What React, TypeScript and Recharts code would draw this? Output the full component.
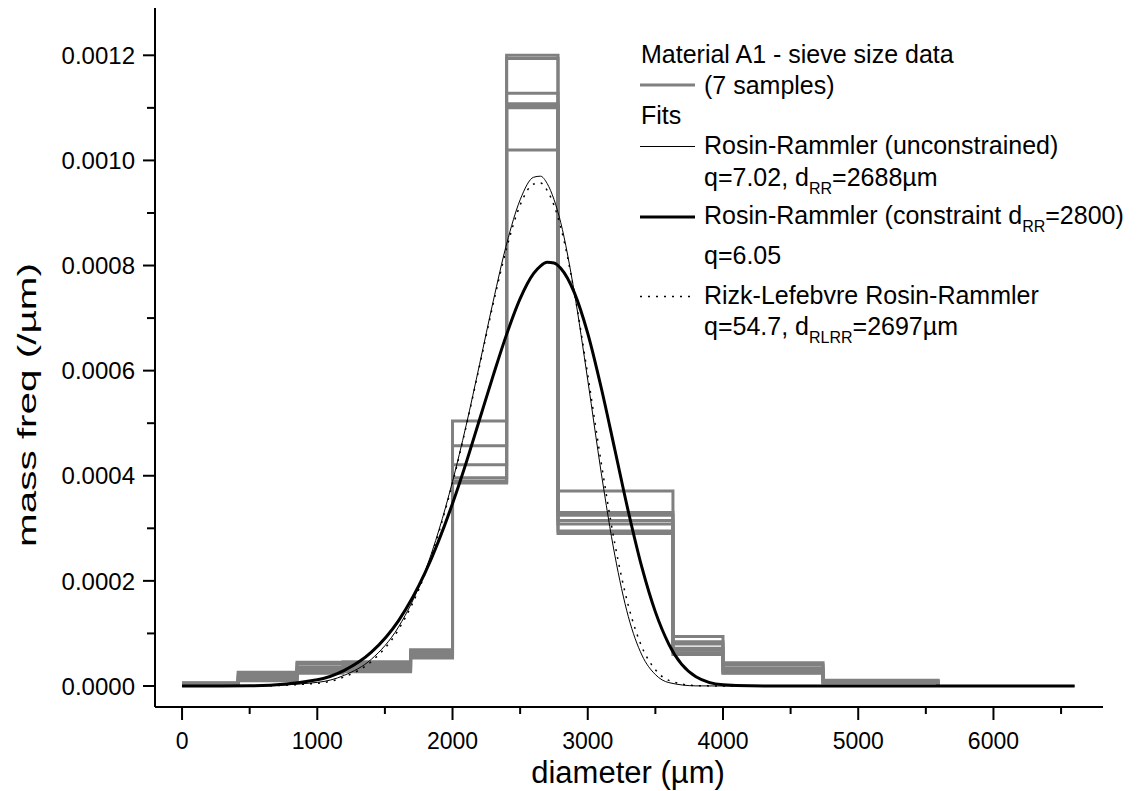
import { LineChart, Line, XAxis, YAxis, Legend } from 'recharts';

const FONT = '"Liberation Sans", Arial, Helvetica, sans-serif';

// sieve bin edges (µm); last edge closes the histogram back to zero
const sieveEdges = [0, 415, 850, 1190, 1690, 2000, 2400, 2780, 3630, 4000, 4740, 5590];

// mass frequency (/µm) of each bin, 7 samples of material A1
const sample1 = [0.000006, 0.000026, 0.000045, 0.000046, 0.000069, 0.000504, 0.0012, 0.00029, 0.00006, 0.000024, 0.000006];
const sample2 = [0.000005, 0.000022, 0.000042, 0.000043, 0.000065, 0.000457, 0.001194, 0.000295, 0.000063, 0.000025, 0.000006];
const sample3 = [0.000005, 0.000018, 0.000036, 0.00004, 0.000062, 0.000421, 0.001128, 0.000308, 0.000068, 0.000027, 0.000007];
const sample4 = [0.000004, 0.000015, 0.000032, 0.000037, 0.000059, 0.000396, 0.001108, 0.000315, 0.000072, 0.00003, 0.000008];
const sample5 = [0.000004, 0.000013, 0.00003, 0.000033, 0.000056, 0.00039, 0.001104, 0.000325, 0.00008, 0.000034, 0.000009];
const sample6 = [0.000003, 0.000011, 0.000027, 0.00003, 0.000054, 0.000388, 0.0011, 0.00033, 0.000084, 0.00004, 0.00001];
const sample7 = [0.000003, 0.00001, 0.000024, 0.000027, 0.000053, 0.000386, 0.00102, 0.000371, 0.000094, 0.000044, 0.000011];

// fitted curves, read along the diameter axis
const fitDiameter = [0, 500, 1000, 1200, 1400, 1600, 1800, 2000, 2100, 2200, 2300, 2400, 2500, 2600, 2650, 2700, 2750, 2800, 2900, 3000, 3100, 3200, 3300, 3400, 3500, 3600, 3800, 4000, 4200, 4500, 5000, 6600];
const rrUnconstrained = [0, 0.0000001, 0.0000068, 0.0000203, 0.0000509, 0.000112, 0.00022, 0.000389, 0.000495, 0.000612, 0.000731, 0.000841, 0.000925, 0.000968, 0.00097, 0.000956, 0.000926, 0.000882, 0.00075, 0.000582, 0.000405, 0.000249, 0.000132, 0.000059, 0.0000217, 0.0000064, 0.0000002, 0, 0, 0, 0, 0];
const rrConstrained = [0, 0.0000004, 0.0000119, 0.0000298, 0.0000643, 0.000124, 0.000217, 0.000347, 0.000424, 0.000507, 0.00059, 0.000669, 0.000737, 0.000785, 0.000799, 0.000806, 0.000805, 0.000795, 0.000749, 0.000671, 0.000567, 0.00045, 0.000332, 0.000226, 0.000141, 0.0000793, 0.0000177, 0.0000023, 0.0000002, 0, 0, 0];
const rizkLefebvre = [0, 0, 0.0000051, 0.0000173, 0.0000467, 0.000107, 0.000216, 0.000386, 0.000493, 0.000609, 0.000726, 0.000833, 0.000915, 0.000955, 0.000957, 0.000943, 0.000915, 0.000873, 0.00075, 0.000592, 0.000424, 0.000271, 0.000153, 0.0000746, 0.0000309, 0.0000106, 0.0000007, 0, 0, 0, 0, 0];

const xTicks = [0, 500, 1000, 1500, 2000, 2500, 3000, 3500, 4000, 4500, 5000, 5500, 6000, 6500];
const yTicks = [0, 0.0001, 0.0002, 0.0003, 0.0004, 0.0005, 0.0006, 0.0007, 0.0008, 0.0009, 0.001, 0.0011, 0.0012];

const samples = [sample1, sample2, sample3, sample4, sample5, sample6, sample7];
const sampleData = samples.map((vals) =>
  sieveEdges.map((x, i) => ({ x, y: i < vals.length ? vals[i] : 0 }))
);
const toFit = (vals: number[]) => fitDiameter.map((x, i) => ({ x, y: vals[i] }));

const XTick = (props: any) => {
  const { x, y, payload } = props;
  const v = payload.value;
  const major = v % 1000 === 0;
  return (
    <g>
      <line x1={x} x2={x} y1={y} y2={y + (major ? 13 : 7)} stroke="#000" strokeWidth={2} />
      {major && (
        <text x={x} y={y + 42} textAnchor="middle" fontSize={23} fontFamily={FONT} fill="#000">
          {v}
        </text>
      )}
    </g>
  );
};

const YTick = (props: any) => {
  const { x, y, payload } = props;
  const v = payload.value;
  const major = Math.round(v * 10000) % 2 === 0;
  return (
    <g>
      <line x1={x} x2={x - (major ? 12 : 8)} y1={y} y2={y} stroke="#000" strokeWidth={2} />
      {major && (
        <text x={x - 20} y={y} dy="0.36em" textAnchor="end" fontSize={24} fontFamily={FONT} fill="#000">
          {v.toFixed(4)}
        </text>
      )}
    </g>
  );
};

const LegendBox = () => (
  <svg width={540} height={340} style={{ overflow: 'visible', display: 'block' }}>
    <g transform="translate(-600,-20)" fontFamily={FONT} fontSize={25} fill="#000">
      <text x={641} y={63}>Material A1 - sieve size data</text>
      <line x1={640} x2={695} y1={85} y2={85} stroke="#808080" strokeWidth={3} />
      <text x={704} y={94}>(7 samples)</text>
      <text x={641} y={124}>Fits</text>
      <line x1={640} x2={695} y1={146.5} y2={146.5} stroke="#000" strokeWidth={1} />
      <text x={704} y={154}>Rosin-Rammler (unconstrained)</text>
      <text x={704} y={186}>
        q=7.02, d<tspan fontSize={16} dy={8}>RR</tspan>
        <tspan dy={-8}>=2688µm</tspan>
      </text>
      <line x1={640} x2={695} y1={217} y2={217} stroke="#000" strokeWidth={3} />
      <text x={704} y={224}>
        Rosin-Rammler (constraint d<tspan fontSize={16} dy={8}>RR</tspan>
        <tspan dy={-8}>=2800)</tspan>
      </text>
      <text x={704} y={264}>q=6.05</text>
      <line x1={640} x2={695} y1={296.5} y2={296.5} stroke="#000" strokeWidth={1.5} strokeDasharray="2 6" />
      <text x={704} y={304}>Rizk-Lefebvre Rosin-Rammler</text>
      <text x={704} y={335}>
        q=54.7, d<tspan fontSize={16} dy={8}>RLRR</tspan>
        <tspan dy={-8}>=2697µm</tspan>
      </text>
    </g>
  </svg>
);

export default function App() {
  return (
    <div style={{ position: 'absolute', left: 0, top: 0, background: '#fff' }}>
      <LineChart width={1139} height={791} margin={{ top: 8, right: 36, bottom: 0, left: 0 }}>
        <XAxis
          type="number"
          dataKey="x"
          domain={[-200, 6810]}
          ticks={xTicks}
          interval={0}
          allowDataOverflow
          height={84}
          tickSize={0}
          tickMargin={0}
          tickLine={false}
          tick={<XTick />}
          axisLine={{ stroke: '#000', strokeWidth: 2 }}
          label={() => (
            <text x={628} y={783} textAnchor="middle" fontSize={31} fontFamily={FONT} fill="#000">
              diameter (µm)
            </text>
          )}
        />
        <YAxis
          type="number"
          dataKey="y"
          domain={[-0.00004, 0.00129]}
          ticks={yTicks}
          interval={0}
          allowDataOverflow
          width={155}
          tickSize={0}
          tickMargin={0}
          tickLine={false}
          tick={<YTick />}
          axisLine={{ stroke: '#000', strokeWidth: 2 }}
          label={() => (
            <text
              x={36}
              y={405}
              transform="rotate(-90 36 405)"
              textAnchor="middle"
              fontSize={26}
              fontFamily={FONT}
              fill="#000"
              textLength={284}
              lengthAdjust="spacingAndGlyphs"
            >
              mass freq (/µm)
            </text>
          )}
        />
        <Legend
          layout="vertical"
          align="center"
          verticalAlign="middle"
          wrapperStyle={{ position: 'absolute', left: 600, top: 20, width: 540, height: 340 }}
          content={() => <LegendBox />}
        />
        {sampleData.map((d, i) => (
          <Line
            key={`s${i}`}
            data={d}
            dataKey="y"
            type="stepAfter"
            stroke="#808080"
            strokeWidth={3}
            dot={false}
            activeDot={false}
            isAnimationActive={false}
            legendType="none"
          />
        ))}
        <Line data={toFit(rrUnconstrained)} dataKey="y" type="monotone" stroke="#000" strokeWidth={1} dot={false} activeDot={false} isAnimationActive={false} />
        <Line data={toFit(rrConstrained)} dataKey="y" type="monotone" stroke="#000" strokeWidth={3} dot={false} activeDot={false} isAnimationActive={false} />
        <Line data={toFit(rizkLefebvre)} dataKey="y" type="monotone" stroke="#000" strokeWidth={1.5} strokeDasharray="2 6" dot={false} activeDot={false} isAnimationActive={false} />
      </LineChart>
    </div>
  );
}
